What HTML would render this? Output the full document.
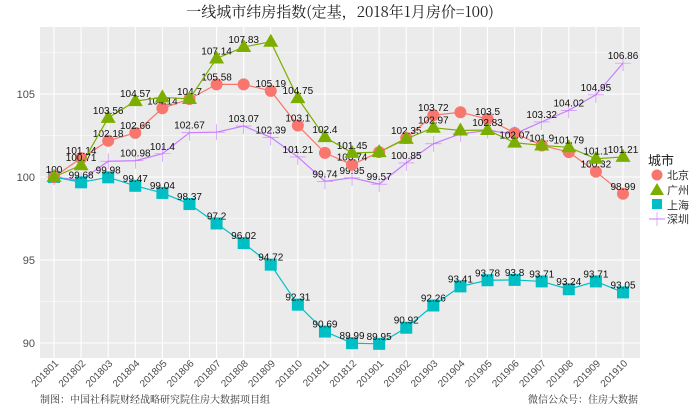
<!DOCTYPE html>
<html><head><meta charset="utf-8"><style>
body{margin:0;background:#fff;width:700px;height:408px;overflow:hidden}
svg text{font-family:"Liberation Sans","Noto Sans CJK SC",sans-serif}
</style></head><body>
<svg id="chart" width="700" height="408" xmlns="http://www.w3.org/2000/svg">
<text x="340" y="17" text-anchor="middle" font-size="15" fill="#222" style="font-family:'Noto Serif CJK SC','Liberation Serif',serif">一线城市纬房指数(定基，2018年1月房价=100)</text>
<rect x="40" y="27" width="600" height="331" fill="#EBEBEB"/>
<g id="grid"></g><g id="series"></g><g id="axes"></g>
<g>
<text x="648" y="165" font-size="13" fill="#222">城市</text>
<g><circle cx="657" cy="175" r="5.5" fill="#F8766D"/><text x="667" y="179" font-size="11" fill="#333">北京</text></g>
<g><polygon points="657,183 664,195 650,195" fill="#7CAE00"/><text x="667" y="194" font-size="11" fill="#333">广州</text></g>
<g><rect x="652" y="199" width="10" height="10" fill="#00BFC4"/><text x="667" y="209" font-size="11" fill="#333">上海</text></g>
<g><line x1="649" y1="219" x2="665" y2="219" stroke="#C77CFF"/><line x1="657" y1="212" x2="657" y2="226" stroke="#C77CFF" stroke-width="0.6"/><text x="667" y="223" font-size="11" fill="#333">深圳</text></g>
</g>
<text x="40" y="403" font-size="10" fill="#333" style="font-family:'Noto Serif CJK SC',serif">制图：中国社科院财经战略研究院住房大数据项目组</text>
<text x="638" y="403" text-anchor="end" font-size="10" fill="#333" style="font-family:'Noto Serif CJK SC',serif">微信公众号：住房大数据</text>
</svg>
<script>
const months=["201801","201802","201803","201804","201805","201806","201807","201808","201809","201810","201811","201812","201901","201902","201903","201904","201905","201906","201907","201908","201909","201910"];
const yTicks=[90,95,100,105];
const beijing=[100,101.14,102.18,102.66,104.14,104.7,105.58,105.58,105.19,103.1,101.45,100.74,101.5,102.35,103.72,103.9,103.5,102.65,101.9,101.5,100.32,98.99];
const beijingLabels=["100","101.14","102.18","102.66","104.14","104.7","105.58","","105.19","103.1","","100.74","","102.35","103.72","","103.5","","101.9","","100.32","98.99"];
const guangzhou=[100,100.71,103.56,104.57,104.8,104.7,107.14,107.83,108.15,104.75,102.4,101.45,101.5,102.3,102.97,102.8,102.83,102.07,101.9,101.79,101.1,101.21];
const guangzhouLabels=["","100.71","103.56","104.57","","","107.14","107.83","","104.75","102.4","101.45","","","102.97","","102.83","102.07","","101.79","101.1","101.21"];
const shanghai=[100,99.68,99.98,99.47,99.04,98.37,97.2,96.02,94.72,92.31,90.69,89.99,89.95,90.92,92.26,93.41,93.78,93.8,93.71,93.24,93.71,93.05];
const shanghaiLabels=["","99.68","99.98","99.47","99.04","98.37","97.2","96.02","94.72","92.31","90.69","89.99","89.95","90.92","92.26","93.41","93.78","93.8","93.71","93.24","93.71","93.05"];
const shenzhen=[100,99.8,100.95,100.98,101.4,102.67,102.7,103.07,102.39,101.21,99.74,99.95,99.57,100.85,102.0,102.6,102.8,102.6,103.32,104.02,104.95,106.86];
const shenzhenLabels=["","","","100.98","101.4","102.67","","103.07","102.39","101.21","99.74","99.95","99.57","100.85","","","","","103.32","104.02","104.95","106.86"];

const NS="http://www.w3.org/2000/svg";
const x=i=>54+i*(623-54)/(months.length-1);
const y=v=>177-(v-100)*16.6;
function mk(parent,tag,attrs){const e=document.createElementNS(NS,tag);for(const k in attrs)e.setAttribute(k,attrs[k]);document.getElementById(parent).appendChild(e);return e;}
yTicks.forEach(t=>{
  const g=mk('grid','line',{x1:40,x2:640,y1:y(t),y2:y(t),stroke:'#fff','stroke-width':1.1});
  
  
  const m=mk('grid','line',{x1:40,x2:640,y1:y(t+2.5),y2:y(t+2.5),stroke:'#fff','stroke-width':0.5});
  
  
  const tl=mk('axes','text',{x:35,y:y(t)+4,'text-anchor':'end','font-size':11,fill:'#4d4d4d'});
  tl.textContent=t;
  
  
});
months.forEach((m,i)=>{
  const g=mk('grid','line',{x1:x(i),x2:x(i),y1:27,y2:358,stroke:'#fff','stroke-width':1.1});
  
  
  const t=mk('axes','text',{x:x(i)+5,y:364,'text-anchor':'end','font-size':10,fill:'#4d4d4d',transform:`rotate(-45 ${x(i)+5} 364)`});
  t.textContent=m;
  
  
});
function series(name,vals,labels,color,shape){
  const p=mk('series','polyline',{points:vals.map((v,i)=>x(i)+','+y(v)).join(' '),fill:'none',stroke:color,'stroke-width':1.2});
  
  
  vals.forEach((v,i)=>{
    const cx=x(i),cy=y(v);let e;
    if(shape==='circle')e=mk('series','circle',{cx,cy,r:6,fill:color});
    else if(shape==='tri')e=mk('series','polygon',{points:`${cx},${cy-8} ${cx+7.5},${cy+5} ${cx-7.5},${cy+5}`,fill:color});
    else if(shape==='sq')e=mk('series','rect',{x:cx-6,y:cy-6,width:12,height:12,fill:color});
    else e=mk('series','path',{d:`M${cx-8},${cy}H${cx+8}M${cx},${cy-8}V${cy+8}`,stroke:color,'stroke-width':0.6,fill:'none'});
    
    
  });
  labels.forEach((l,i)=>{
    if(!l)return;
    const t=mk('series','text',{x:x(i),y:y(vals[i])-4,'text-anchor':'middle','font-size':10,fill:'#111'});
    t.textContent=l;
    
    
  });
}
series('shenzhen',shenzhen,shenzhenLabels,'#C77CFF','cross');
series('shanghai',shanghai,shanghaiLabels,'#00BFC4','sq');
series('beijing',beijing,beijingLabels,'#F8766D','circle');
series('guangzhou',guangzhou,guangzhouLabels,'#7CAE00','tri');
</script>
</body></html>
